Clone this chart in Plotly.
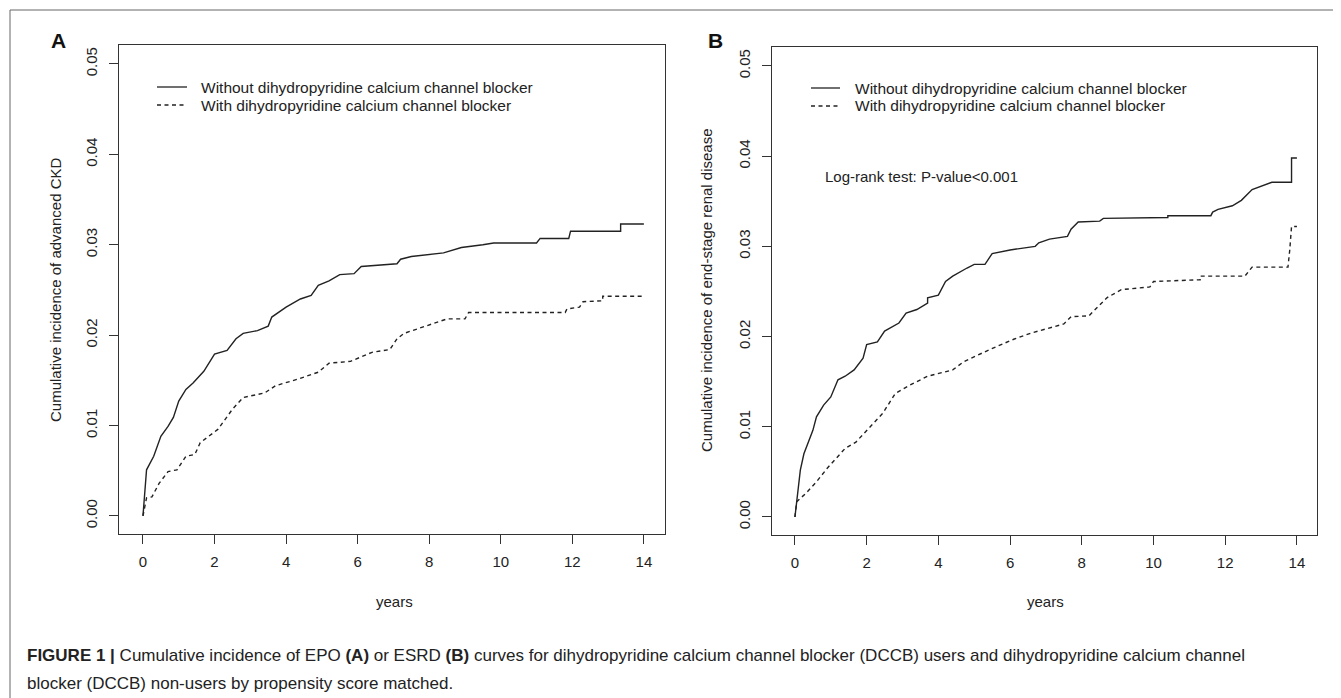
import plotly.graph_objects as go

W, H = 1341, 698
OFF = 8  # page body margin of the rendered html

# ---- data (years, cumulative incidence) ----
a_without_t = [0, 0.1, 0.3, 0.5, 0.7, 0.85, 1.0, 1.2, 1.4, 1.7, 2.0, 2.35, 2.6, 2.8, 3.2, 3.5, 3.6, 4.0, 4.4, 4.7,
               4.9, 5.2, 5.5, 5.9, 6.1, 7.1, 7.2, 7.5, 8.4, 8.9, 9.5, 9.8, 11.0, 11.1, 11.9, 11.95, 13.35, 13.35, 14.0]
a_without_v = [0, 0.0051, 0.0066, 0.0088, 0.0099, 0.0109, 0.0127, 0.0140, 0.0147, 0.0160, 0.0179, 0.0183, 0.0196,
               0.0202, 0.0205, 0.0210, 0.0220, 0.0231, 0.0240, 0.0244, 0.0255, 0.0260, 0.0267, 0.0268, 0.0276,
               0.0279, 0.0284, 0.0287, 0.0291, 0.0297, 0.0300, 0.0302, 0.0302, 0.0307, 0.0307, 0.0315, 0.0315,
               0.0323, 0.0323]

a_with_t = [0, 0.1, 0.25, 0.45, 0.7, 0.95, 1.2, 1.45, 1.6, 2.1, 2.5, 2.8, 3.4, 3.7, 4.3, 4.9, 5.2, 5.8, 6.4, 6.9,
            7.1, 7.3, 7.9, 8.5, 9.0, 9.1, 11.8, 11.85, 12.2, 12.3, 12.85, 12.85, 14.0]
a_with_v = [0, 0.0020, 0.0021, 0.0036, 0.0049, 0.0051, 0.0066, 0.0068, 0.0081, 0.0096, 0.0118, 0.0131, 0.0136,
            0.0144, 0.0151, 0.0159, 0.0169, 0.0171, 0.0181, 0.0184, 0.0196, 0.0202, 0.0210, 0.0218, 0.0218,
            0.0225, 0.0225, 0.0229, 0.0231, 0.0237, 0.0238, 0.0243, 0.0243]

b_without_t = [0, 0.05, 0.15, 0.25, 0.4, 0.5, 0.6, 0.8, 1.0, 1.2, 1.4, 1.65, 1.9, 2.0, 2.3, 2.5, 2.9, 3.1, 3.4,
               3.7, 3.7, 4.0, 4.2, 4.4, 4.8, 5.0, 5.3, 5.5, 6.0, 6.7, 6.8, 7.1, 7.6, 7.7, 7.9, 8.5, 8.6, 10.4,
               10.4, 11.6, 11.65, 11.8, 12.2, 12.45, 12.75, 13.3, 13.85, 13.85, 14.0]
b_without_v = [0, 0.0019, 0.0052, 0.0070, 0.0085, 0.0096, 0.0111, 0.0124, 0.0133, 0.0152, 0.0156, 0.0163,
               0.0176, 0.0191, 0.0194, 0.0206, 0.0215, 0.0226, 0.0230, 0.0237, 0.0243, 0.0246, 0.0261, 0.0267,
               0.0276, 0.0280, 0.0280, 0.0292, 0.0296, 0.0300, 0.0304, 0.0308, 0.0311, 0.0319, 0.0327, 0.0328,
               0.0331, 0.0332, 0.0334, 0.0334, 0.0338, 0.0341, 0.0345, 0.0351, 0.0363, 0.0371, 0.0371, 0.0398,
               0.0398]

b_with_t = [0, 0.05, 0.3, 0.6, 0.9, 1.4, 1.7, 2.1, 2.45, 2.8, 3.2, 3.7, 4.4, 4.7, 5.4, 6.1, 6.6, 7.5, 7.7, 8.2,
            8.7, 9.1, 9.9, 10.0, 11.3, 11.3, 12.55, 12.75, 13.75, 13.8, 13.85, 14.0]
b_with_v = [0, 0.0017, 0.0026, 0.0039, 0.0054, 0.0076, 0.0083, 0.0100, 0.0115, 0.0137, 0.0146, 0.0156, 0.0163,
            0.0172, 0.0185, 0.0197, 0.0204, 0.0214, 0.0222, 0.0223, 0.0243, 0.0252, 0.0255, 0.0261, 0.0263,
            0.0267, 0.0267, 0.0277, 0.0277, 0.0296, 0.0322, 0.0322]

x_ticks = [0, 2, 4, 6, 8, 10, 12, 14]
y_ticks = [0.00, 0.01, 0.02, 0.03, 0.04, 0.05]
y_tick_text = ["0.00", "0.01", "0.02", "0.03", "0.04", "0.05"]

legend_labels = ["Without dihydropyridine calcium channel blocker", "With dihydropyridine calcium channel blocker"]
y_titles = ["Cumulative incidence of advanced CKD", "Cumulative incidence of end-stage renal disease"]
x_title = "years"
logrank_text = "Log-rank test: P-value<0.001"
caption1 = ("<b>FIGURE 1 |</b> Cumulative incidence of EPO <b>(A)</b> or ESRD <b>(B)</b> curves for dihydropyridine "
            "calcium channel blocker (DCCB) users and dihydropyridine calcium channel")
caption2 = "blocker (DCCB) non-users by propensity score matched."

FONT = "Liberation Sans, Arial, sans-serif"
INK = "#222222"
AX = "#333333"
DASH = "4px,3.5px"


def px(x):
    return (x - OFF) / W


def py(y):
    return 1 - (y - OFF) / H


fig = go.Figure()

series = [
    ("x", "y", a_without_t, a_without_v, "solid"),
    ("x", "y", a_with_t, a_with_v, DASH),
    ("x2", "y2", b_without_t, b_without_v, "solid"),
    ("x2", "y2", b_with_t, b_with_v, DASH),
]
for xa, ya, t, v, dash in series:
    fig.add_trace(go.Scatter(x=t, y=v, xaxis=xa, yaxis=ya, mode="lines",
                             line=dict(color=INK, width=1.4, dash=dash), showlegend=False,
                             hoverinfo="x+y"))

axis_common = dict(showgrid=False, zeroline=False, showline=True, mirror=True, linecolor=AX, linewidth=1.3,
                   ticks="outside", ticklen=9, tickwidth=1.2, tickcolor=AX,
                   tickfont=dict(family=FONT, size=15, color=INK))

fig.update_layout(
    width=W, height=H, margin=dict(l=0, r=0, t=0, b=0),
    paper_bgcolor="white", plot_bgcolor="white",
    xaxis=dict(domain=[px(119), px(665)], range=[-0.67, 14.59], tickvals=x_ticks, anchor="y",
               ticklabelstandoff=5, **axis_common),
    yaxis=dict(domain=[py(534), py(45)], range=[-0.0020, 0.0521], tickvals=y_ticks, ticktext=y_tick_text,
               tickangle=-90, anchor="x", ticklabelstandoff=6, **axis_common),
    xaxis2=dict(domain=[px(772), px(1317)], range=[-0.64, 14.56], tickvals=x_ticks, anchor="y2",
                ticklabelstandoff=5, **axis_common),
    yaxis2=dict(domain=[py(535), py(47)], range=[-0.0020, 0.0521], tickvals=y_ticks, ticktext=y_tick_text,
                tickangle=-90, anchor="x2", ticklabelstandoff=6, **axis_common),
    showlegend=False,
)

shapes = [
    dict(type="line", xref="paper", yref="paper", x0=px(10), x1=1, y0=py(10), y1=py(10),
         line=dict(color="#666666", width=1)),
    dict(type="line", xref="paper", yref="paper", x0=px(10), x1=px(10), y0=py(10), y1=0,
         line=dict(color="#666666", width=1)),
]
annotations = []

legend_pos = [(157, 187, 199, 87), (811, 840, 853, 88)]
for (lx0, lx1, tx, ly) in legend_pos:
    for i, (lab, dash) in enumerate(zip(legend_labels, ["solid", DASH])):
        yy = ly + i * 18
        shapes.append(dict(type="line", xref="paper", yref="paper", x0=px(lx0), x1=px(lx1),
                           y0=py(yy), y1=py(yy), line=dict(color=INK, width=1.3, dash=dash)))
        annotations.append(dict(text=lab, xref="paper", yref="paper", x=px(tx), y=py(yy), xanchor="left",
                                yanchor="middle", showarrow=False, font=dict(family=FONT, size=15.5, color=INK)))

for lab, x, y in [("A", 58, 40), ("B", 715, 40)]:
    annotations.append(dict(text="<b>%s</b>" % lab, xref="paper", yref="paper", x=px(x), y=py(y),
                            xanchor="center", yanchor="middle", showarrow=False,
                            font=dict(family=FONT, size=21, color="#111111")))

for lab, x, y in [(y_titles[0], 55, 290), (y_titles[1], 706, 290)]:
    annotations.append(dict(text=lab, xref="paper", yref="paper", x=px(x), y=py(y), textangle=-90,
                            xanchor="center", yanchor="middle", showarrow=False,
                            font=dict(family=FONT, size=15, color=INK)))

for x in (394, 1045):
    annotations.append(dict(text=x_title, xref="paper", yref="paper", x=px(x), y=py(601),
                            xanchor="center", yanchor="middle", showarrow=False,
                            font=dict(family=FONT, size=15, color=INK)))

annotations.append(dict(text=logrank_text, xref="paper", yref="paper", x=px(823), y=py(177), xanchor="left",
                        yanchor="middle", showarrow=False, font=dict(family=FONT, size=15, color=INK)))

for txt, y in [(caption1, 655), (caption2, 683)]:
    annotations.append(dict(text=txt, xref="paper", yref="paper", x=px(25), y=py(y), xanchor="left",
                            yanchor="middle", showarrow=False, font=dict(family=FONT, size=17, color="#222222")))

fig.update_layout(shapes=shapes, annotations=annotations)
fig.write_html("out.html")
